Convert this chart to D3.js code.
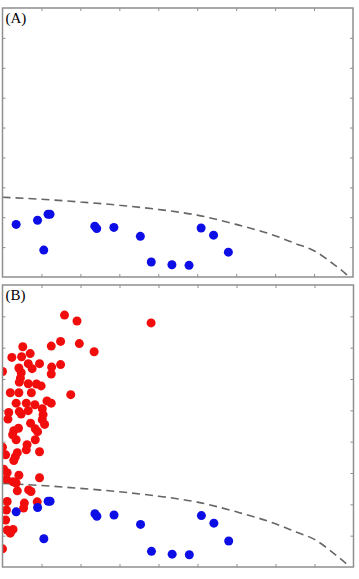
<!DOCTYPE html>
<html>
<head>
<meta charset="utf-8">
<script src="https://cdn.jsdelivr.net/npm/d3@7"></script>
<style>
  body { margin: 0; background: #fff; }
  svg { display: block; }
</style>
</head>
<body>
<div id="chart"></div>
<script>
// blue class (same points in both panels)
var blueX = [0.35, 0.90, 1.17, 1.22, 1.06, 2.37, 2.42, 2.86, 3.54, 3.82, 4.35, 4.79, 5.10, 5.42, 5.80];
var blueY = [1.76, 1.90, 2.10, 2.10, 0.90, 1.70, 1.62, 1.66, 1.36, 0.50, 0.41, 0.39, 1.64, 1.40, 0.83];

// red class (panel B only)
var redX = [1.59, 1.91, 1.49, 1.97, 1.25, 2.35, 0.52, 0.24, 0.49, 0.71, 0.66, 0.95, 1.49, 1.26, 1.25,
            0.00, 0.42, 0.48, 0.76, 0.46, 0.43, 0.66, 0.87, 0.99, 0.20, 0.42, 0.74, 1.75, 0.35, 0.61,
            0.83, 1.14, 1.25, 0.16, 0.43, 0.48, 0.66, 1.02, 1.04, 0.14, 1.02, 1.08, 0.72, 0.41, 0.29,
            0.84, 0.90, 0.26, 0.35, 0.84, 0.00, 0.63, 0.61, 0.95, 0.08, 0.38, 0.33, 0.29, 0.03, 0.12,
            0.42, 0.95, 0.10, 0.27, 0.35, 0.38, 0.67, 0.73, 0.12, 0.56, 0.54, 0.89, 0.10, 0.08, 0.12,
            0.27, 0.20, 0.00, 3.81];
var redY = [8.04, 7.85, 7.20, 7.13, 7.05, 6.87, 7.03, 6.69, 6.71, 6.81, 6.49, 6.49, 6.46, 6.38, 6.16,
            6.24, 6.35, 6.20, 6.33, 6.03, 5.90, 5.85, 5.84, 5.78, 5.56, 5.56, 5.56, 5.50, 5.23, 5.23,
            5.18, 5.30, 5.23, 4.93, 4.96, 4.88, 4.99, 5.05, 4.86, 4.72, 4.70, 4.55, 4.59, 4.43, 4.35,
            4.41, 4.32, 4.22, 4.06, 4.06, 3.82, 3.90, 3.74, 3.68, 3.58, 3.65, 3.52, 3.40, 3.12, 3.01,
            2.93, 2.85, 2.81, 2.72, 2.68, 2.43, 2.46, 2.41, 2.09, 2.04, 1.88, 2.08, 1.82, 1.50, 1.18,
            1.20, 1.08, 0.58, 7.79];

// dashed decision boundary
var boundaryX = [0, 1, 2, 3, 4, 5, 6, 7, 7.5, 8, 8.5, 8.8, 8.9];
var boundaryY = [2.67, 2.60, 2.51, 2.40, 2.26, 2.07, 1.76, 1.38, 1.13, 0.88, 0.43, 0.12, 0.0];

var xTicks = [1, 2, 3, 4, 5, 6, 7, 8];
var yTicks = [1, 2, 3, 4, 5, 6, 7, 8];

var width = 359, height = 579;

var svg = d3.select("#chart")
  .append("svg")
    .attr("width", width)
    .attr("height", height);

var frameColor = "#8f8f8f";

function drawPanel(box, label, id, showRed) {
  var x = d3.scaleLinear().domain([0, 9]).range([box.left, box.right]);
  var y = d3.scaleLinear().domain([0, 9]).range([box.bottom, box.top]);

  var g = svg.append("g");

  g.append("clipPath").attr("id", id)
    .append("rect")
      .attr("x", box.left).attr("y", box.top)
      .attr("width", box.right - box.left)
      .attr("height", box.bottom - box.top);

  // ticks inside on all four sides, no labels
  var tickLen = 3;
  g.append("g")
    .attr("transform", "translate(0," + box.bottom + ")")
    .call(d3.axisBottom(x).tickValues(xTicks).tickSize(-tickLen).tickFormat(""));
  g.append("g")
    .attr("transform", "translate(0," + box.top + ")")
    .call(d3.axisTop(x).tickValues(xTicks).tickSize(-tickLen).tickFormat(""));
  g.append("g")
    .attr("transform", "translate(" + box.left + ",0)")
    .call(d3.axisLeft(y).tickValues(yTicks).tickSize(-tickLen).tickFormat(""));
  g.append("g")
    .attr("transform", "translate(" + box.right + ",0)")
    .call(d3.axisRight(y).tickValues(yTicks).tickSize(-tickLen).tickFormat(""));

  g.selectAll(".domain").remove();
  g.selectAll(".tick line").attr("stroke", frameColor).attr("stroke-width", 1);

  var plot = g.append("g").attr("clip-path", "url(#" + id + ")");

  // dashed boundary
  var pts = boundaryX.map(function (d, i) { return [d, boundaryY[i]]; });
  plot.append("path")
    .datum(pts)
    .attr("fill", "none")
    .attr("stroke", "#666")
    .attr("stroke-width", 1.6)
    .attr("stroke-dasharray", "8,5")
    .attr("d", d3.line()
      .x(function (d) { return x(d[0]); })
      .y(function (d) { return y(d[1]); })
      .curve(d3.curveMonotoneX));

  if (showRed) {
    plot.selectAll(".red")
      .data(redX)
      .enter().append("circle")
        .attr("cx", function (d) { return x(d); })
        .attr("cy", function (d, i) { return y(redY[i]); })
        .attr("r", 4.5)
        .attr("fill", "#f20d0d");
  }

  plot.selectAll(".blue")
    .data(blueX)
    .enter().append("circle")
      .attr("cx", function (d) { return x(d); })
      .attr("cy", function (d, i) { return y(blueY[i]); })
      .attr("r", 4.5)
      .attr("fill", "#0d0de6");

  // frame
  g.append("rect")
    .attr("x", box.left).attr("y", box.top)
    .attr("width", box.right - box.left)
    .attr("height", box.bottom - box.top)
    .attr("fill", "none")
    .attr("stroke", frameColor)
    .attr("stroke-width", 1.5);

  g.append("text")
    .attr("x", box.left + 3)
    .attr("y", box.top + 15)
    .attr("font-family", "'Liberation Serif', 'DejaVu Serif', serif")
    .attr("font-size", 15)
    .attr("fill", "#000")
    .text(label);
}

drawPanel({left: 2.5, right: 353, top: 8, bottom: 277}, "(A)", "clipA", false);
drawPanel({left: 2.5, right: 353.5, top: 285, bottom: 567}, "(B)", "clipB", true);
</script>
</body>
</html>
